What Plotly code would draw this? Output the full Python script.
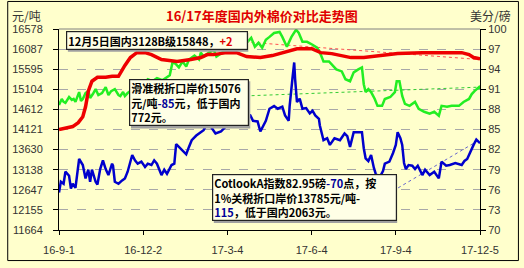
import plotly.graph_objects as go

# ---------------- data ----------------
title_text = "16/17年度国内外棉价对比走势图"
left_unit = "元/吨"
right_unit = "美分/磅"

x_tick_dates = ["2016-09-01", "2016-12-02", "2017-03-04", "2017-06-04", "2017-09-04", "2017-12-05"]
x_tick_labels = ["16-9-1", "16-12-2", "17-3-4", "17-6-4", "17-9-4", "17-12-5"]

left_ticks = [11664, 12155, 12647, 13138, 13630, 14121, 14612, 15104, 15595, 16087, 16578]
right_ticks = [70, 73, 76, 79, 82, 85, 88, 91, 94, 97, 100]

# 国内3128B级 (元/吨, left axis)
red_dates = ["2016-09-01", "2016-09-08", "2016-09-16", "2016-09-22", "2016-09-27", "2016-09-30",
             "2016-10-03", "2016-10-07", "2016-10-13", "2016-10-22", "2016-10-29", "2016-11-05",
             "2016-11-09", "2016-11-12", "2016-11-18", "2016-11-25", "2016-12-04", "2016-12-11",
             "2016-12-22", "2016-12-30", "2017-01-08", "2017-01-23", "2017-02-03", "2017-02-10",
             "2017-02-17", "2017-03-03", "2017-03-14", "2017-03-25", "2017-04-09", "2017-04-22",
             "2017-05-06", "2017-05-19", "2017-06-04", "2017-06-14", "2017-06-26", "2017-07-09",
             "2017-07-17", "2017-07-31", "2017-08-18", "2017-09-06", "2017-10-03", "2017-11-01",
             "2017-11-15", "2017-11-23", "2017-11-28", "2017-12-05"]
red_vals = [14121, 14145, 14193, 14289, 14434, 14675,
            15060, 15301, 15398, 15398, 15422, 15422,
            15590, 15687, 15879, 16000, 16000, 15952,
            15831, 15807, 15783, 15831, 15879, 15952,
            15952, 16000, 16000, 15904, 15879, 15928,
            16024, 16096, 16096, 16000, 15976, 15904,
            15879, 15879, 15928, 15976, 16000, 16000,
            16000, 15952, 15879, 15848]

# 滑准税折口岸价 (元/吨, left axis)
green_dates = ["2016-09-01", "2016-09-04", "2016-09-06", "2016-09-08", "2016-09-12", "2016-09-15",
               "2016-09-17", "2016-09-19", "2016-09-23", "2016-09-25", "2016-09-27", "2016-09-30",
               "2016-10-03", "2016-10-05", "2016-10-08", "2016-10-11", "2016-10-14", "2016-10-18",
               "2016-10-22", "2016-10-25", "2016-10-28", "2016-11-01", "2016-11-05", "2016-11-07",
               "2016-11-10", "2016-11-12", "2016-11-15", "2016-11-21", "2016-11-26", "2016-12-02",
               "2016-12-07", "2016-12-12", "2016-12-17", "2016-12-23", "2016-12-28", "2016-12-31",
               "2017-01-03", "2017-01-06", "2017-01-10", "2017-01-14", "2017-01-18", "2017-01-21",
               "2017-01-27", "2017-02-01", "2017-02-03", "2017-02-06", "2017-02-12", "2017-02-17",
               "2017-02-20", "2017-02-26", "2017-03-03", "2017-03-11", "2017-03-18", "2017-03-25",
               "2017-03-30", "2017-04-03", "2017-04-07", "2017-04-11", "2017-04-15", "2017-04-19",
               "2017-04-24", "2017-04-30", "2017-05-03", "2017-05-08", "2017-05-13", "2017-05-18",
               "2017-05-21", "2017-05-25", "2017-05-30", "2017-06-05", "2017-06-10", "2017-06-14",
               "2017-06-17", "2017-06-23", "2017-06-26", "2017-07-01", "2017-07-07", "2017-07-11",
               "2017-07-16", "2017-07-20", "2017-07-25", "2017-07-29", "2017-07-31", "2017-08-02",
               "2017-08-05", "2017-08-08", "2017-08-12", "2017-08-15", "2017-08-20", "2017-08-23",
               "2017-08-29", "2017-09-03", "2017-09-05", "2017-09-08", "2017-09-11", "2017-09-14",
               "2017-09-19", "2017-09-25", "2017-09-29", "2017-10-05", "2017-10-11", "2017-10-16",
               "2017-10-21", "2017-10-24", "2017-10-30", "2017-11-04", "2017-11-12", "2017-11-17",
               "2017-11-23", "2017-11-26", "2017-11-29", "2017-12-04", "2017-12-05"]
green_vals = [14723, 14868, 14795, 14771, 14916, 14844,
              14868, 14795, 15036, 14819, 14868, 15012,
              15060, 14892, 14988, 15108, 14964, 15012,
              15157, 14964, 15060, 15108, 14964, 14940,
              15036, 14940, 15012, 15108, 15060, 15205,
              15349, 15301, 15374, 15325, 15398, 15446,
              15759, 15735, 15639, 15783, 15663, 15831,
              15928, 15831, 16000, 15904, 16000, 16072,
              15904, 16000, 16072, 16024, 16120, 16241,
              16361, 16144, 16241, 16120, 16313, 16385,
              16482, 16506, 16385, 16144, 16385, 16560,
              16482, 16265, 16265, 16193, 16120, 15952,
              15783, 15783, 15711, 15590, 15542, 15349,
              15301, 15518, 15590, 15639, 15229, 15036,
              15108, 15036, 14868, 14699, 14699, 14868,
              14916, 15036, 15301, 15301, 14940, 14747,
              14699, 14795, 14627, 14554, 14506, 14554,
              14458, 14699, 14675, 14699, 14699, 14795,
              14868, 14988, 15060, 15157, 15110]

# Cotlook A指数 (美分/磅, right axis)
blue_dates = ["2016-09-01", "2016-09-03", "2016-09-06", "2016-09-08", "2016-09-12", "2016-09-14",
              "2016-09-16", "2016-09-19", "2016-09-23", "2016-09-27", "2016-09-30", "2016-10-03",
              "2016-10-05", "2016-10-07", "2016-10-11", "2016-10-13", "2016-10-16", "2016-10-19",
              "2016-10-22", "2016-10-25", "2016-10-29", "2016-10-30", "2016-11-01", "2016-11-05",
              "2016-11-09", "2016-11-12", "2016-11-15", "2016-11-20", "2016-11-23", "2016-11-26",
              "2016-11-30", "2016-12-04", "2016-12-07", "2016-12-11", "2016-12-14", "2016-12-17",
              "2016-12-22", "2016-12-25", "2016-12-28", "2017-01-02", "2017-01-05", "2017-01-07",
              "2017-01-10", "2017-01-14", "2017-01-18", "2017-01-21", "2017-01-24", "2017-01-29",
              "2017-02-01", "2017-02-03", "2017-02-06", "2017-02-10", "2017-02-14", "2017-02-19",
              "2017-02-25", "2017-03-02", "2017-03-07", "2017-03-11", "2017-03-16", "2017-03-21",
              "2017-03-29", "2017-04-01", "2017-04-06", "2017-04-09", "2017-04-15", "2017-04-19",
              "2017-04-24", "2017-04-28", "2017-05-03", "2017-05-06", "2017-05-10", "2017-05-11",
              "2017-05-14", "2017-05-16", "2017-05-17", "2017-05-19", "2017-05-22", "2017-05-25",
              "2017-05-29", "2017-06-02", "2017-06-05", "2017-06-08", "2017-06-12", "2017-06-13",
              "2017-06-17", "2017-06-21", "2017-06-24", "2017-06-29", "2017-07-05", "2017-07-10",
              "2017-07-13", "2017-07-16", "2017-07-20", "2017-07-29", "2017-07-31", "2017-08-02",
              "2017-08-05", "2017-08-08", "2017-08-11", "2017-08-13", "2017-08-17", "2017-08-21",
              "2017-08-23", "2017-08-28", "2017-09-01", "2017-09-04", "2017-09-06", "2017-09-09",
              "2017-09-11", "2017-09-13", "2017-09-15", "2017-09-18", "2017-09-22", "2017-09-25",
              "2017-09-28", "2017-10-03", "2017-10-06", "2017-10-11", "2017-10-16", "2017-10-21",
              "2017-10-24", "2017-10-29", "2017-11-02", "2017-11-08", "2017-11-15", "2017-11-18",
              "2017-11-21", "2017-11-24", "2017-11-28", "2017-12-01", "2017-12-04", "2017-12-05"]
blue_vals = [75.6, 77.2, 76.9, 78.7, 78.1, 76.2,
             76.9, 76.3, 80.6, 79.7, 77.7, 79.0,
             77.2, 79.0, 77.2, 76.8, 79.1, 80.4,
             79.1, 78.2, 79.9, 79.6, 77.2, 76.9,
             77.4, 77.7, 78.7, 81.2, 80.4, 79.9,
             80.2, 79.4, 79.9, 79.7, 80.4, 79.9,
             78.2, 79.0, 78.4, 79.7, 79.9, 82.8,
             82.4, 81.9, 81.3, 82.4, 83.4, 84.1,
             84.4, 84.6, 84.9, 85.9, 85.4, 84.4,
             84.7, 85.4, 86.6, 87.4, 87.1, 87.4,
             87.1, 86.3, 86.2, 84.7, 86.3, 88.1,
             88.5, 88.1, 88.4, 87.1, 86.3, 88.5,
             92.5, 95.0, 92.5, 89.1, 89.6, 88.1,
             88.2, 87.4, 87.8, 87.1, 86.6, 85.6,
             83.4, 83.7, 82.7, 83.7, 83.4, 84.4,
             84.0, 82.4, 84.6, 84.6, 82.2, 80.7,
             80.3, 81.2, 79.3, 78.4, 77.8, 78.8,
             79.9, 80.2, 81.5, 82.7, 84.6, 83.7,
             82.7, 80.0, 79.1, 79.7, 79.6, 79.1,
             79.6, 78.2, 79.0, 78.2, 78.7, 77.7,
             80.2, 79.6, 79.7, 80.0, 79.7, 80.3,
             80.6, 81.6, 82.7, 83.5, 83.1, 82.95]

# trend lines
red_trend_dates = ["2017-02-06", "2017-12-05"]
red_trend_vals = [16337, 15831]
green_trend_dates = ["2017-02-06", "2017-12-05"]
green_trend_vals = [14904, 15157]
blue_trend_dates = ["2017-07-29", "2017-12-05"]
blue_trend_vals = [73.1, 83.5]

note1 = "<b>12月5日国内3128B级15848，<span style='color:#E00000'>+2</span></b>"
note2 = ("<b>滑准税折口岸价15076<br>元/吨<span style='color:#000099'>-85</span>元，低于国内<br>772元。</b>")
note3 = ("<b>CotlookA指数82.95磅<span style='color:#000099'>-70</span>点，按<br>"
         "1%关税折口岸价13785元/吨-<br><span style='color:#000099'>115</span>，低于国内2063元。</b>")

# ---------------- figure ----------------
BG = "#FFFFCC"
fig = go.Figure()

fig.add_trace(go.Scatter(x=red_trend_dates, y=red_trend_vals, mode="lines",
                         line=dict(color="#FF5050", width=1, dash="dot"), yaxis="y"))
fig.add_trace(go.Scatter(x=green_trend_dates, y=green_trend_vals, mode="lines",
                         line=dict(color="#33CC33", width=1, dash="dot"), yaxis="y"))
fig.add_trace(go.Scatter(x=blue_trend_dates, y=blue_trend_vals, mode="lines",
                         line=dict(color="#6666CC", width=1, dash="dot"), yaxis="y2"))

fig.add_trace(go.Scatter(x=blue_dates, y=blue_vals, mode="lines",
                         line=dict(color="#0000CC", width=2.5), yaxis="y2"))
fig.add_trace(go.Scatter(x=green_dates, y=green_vals, mode="lines",
                         line=dict(color="#22EE22", width=2.5), yaxis="y"))
fig.add_trace(go.Scatter(x=red_dates, y=red_vals, mode="lines",
                         line=dict(color="#EE0000", width=3.5), yaxis="y"))

tick_font = dict(family="Liberation Sans, Arial, sans-serif", size=11, color="#333333")

fig.update_layout(
    width=524, height=268,
    margin=dict(l=53, r=44, t=29, b=35),
    paper_bgcolor=BG, plot_bgcolor=BG,
    showlegend=False,
    xaxis=dict(type="date", range=["2016-09-01", "2017-12-05"],
               tickvals=x_tick_dates, ticktext=x_tick_labels,
               showgrid=False, zeroline=False,
               showline=True, linecolor="#000000", linewidth=1,
               ticks="outside", ticklen=4, tickcolor="#000000",
               ticklabelstandoff=6,
               tickfont=tick_font),
    yaxis=dict(range=[11664, 16578], tickvals=left_ticks,
               ticktext=[str(v) for v in left_ticks],
               showgrid=True, gridcolor="#A8A8A8", griddash="dash", gridwidth=1,
               zeroline=False, showline=True, linecolor="#000000", linewidth=1,
               ticks="outside", ticklen=5, tickcolor="#000000",
               ticklabelstandoff=8,
               tickfont=tick_font),
    yaxis2=dict(range=[70, 100], tickvals=right_ticks, overlaying="y", side="right",
                showgrid=False, zeroline=False,
                showline=True, linecolor="#000000", linewidth=1,
                ticks="outside", ticklen=5, tickcolor="#000000",
                tickfont=tick_font),
)

# top border of plot, outer frame
fig.add_shape(type="line", xref="paper", yref="paper", x0=0, x1=1, y0=1, y1=1,
              line=dict(color="#808080", width=1))
fig.add_shape(type="rect", xref="paper", yref="paper",
              x0=-0.1218, x1=1.0913, y0=-0.152, y1=1.137,
              line=dict(color="#000000", width=1), layer="below")

cjk = "Noto Sans CJK SC, sans-serif"
fig.add_annotation(text="<b>" + title_text + "</b>", xref="paper", yref="paper",
                   x=0.482, y=1.068, xanchor="center", yanchor="middle", showarrow=False,
                   font=dict(family=cjk, size=13, color="#E00000"))
fig.add_annotation(text=left_unit, xref="paper", yref="paper",
                   x=-0.078, y=1.068, xanchor="center", yanchor="middle", showarrow=False,
                   font=dict(family=cjk, size=12, color="#333333"))
fig.add_annotation(text=right_unit, xref="paper", yref="paper",
                   x=1.024, y=1.068, xanchor="center", yanchor="middle", showarrow=False,
                   font=dict(family=cjk, size=12, color="#333333"))

box_font = dict(family=cjk, size=11, color="#000000")
# shadows
for (x0, y0, w, h) in [(60, 31, 183, 19), (124, 80, 121, 48), (208, 176, 186, 48)]:
    fig.add_shape(type="rect", xref="paper", yref="paper",
                  x0=(x0 + 2 - 53) / 427, x1=(x0 + w + 2 - 53) / 427,
                  y0=(233 - (y0 + h + 2)) / 204, y1=(233 - (y0 + 2)) / 204,
                  fillcolor="#A0A0A0", line=dict(width=0), layer="above")

fig.add_annotation(text=note1, xref="paper", yref="paper",
                   x=(60 - 53) / 427, y=(233 - 31) / 204, xanchor="left", yanchor="top",
                   showarrow=False, align="left", width=178, height=15,
                   bgcolor="#FFFFE6", bordercolor="#222222", borderwidth=1.2, borderpad=1,
                   font=box_font)
fig.add_annotation(text=note2, xref="paper", yref="paper",
                   x=(124 - 53) / 427, y=(233 - 80) / 204, xanchor="left", yanchor="top",
                   showarrow=False, align="left", width=116, height=43,
                   bgcolor="#FFFFE6", bordercolor="#222222", borderwidth=1.2, borderpad=1,
                   font=box_font)
fig.add_annotation(text=note3, xref="paper", yref="paper",
                   x=(208 - 53) / 427, y=(233 - 176) / 204, xanchor="left", yanchor="top",
                   showarrow=False, align="left", width=181, height=43,
                   bgcolor="#FFFFE6", bordercolor="#222222", borderwidth=1.2, borderpad=1,
                   font=box_font)

fig.write_html("out.html")
